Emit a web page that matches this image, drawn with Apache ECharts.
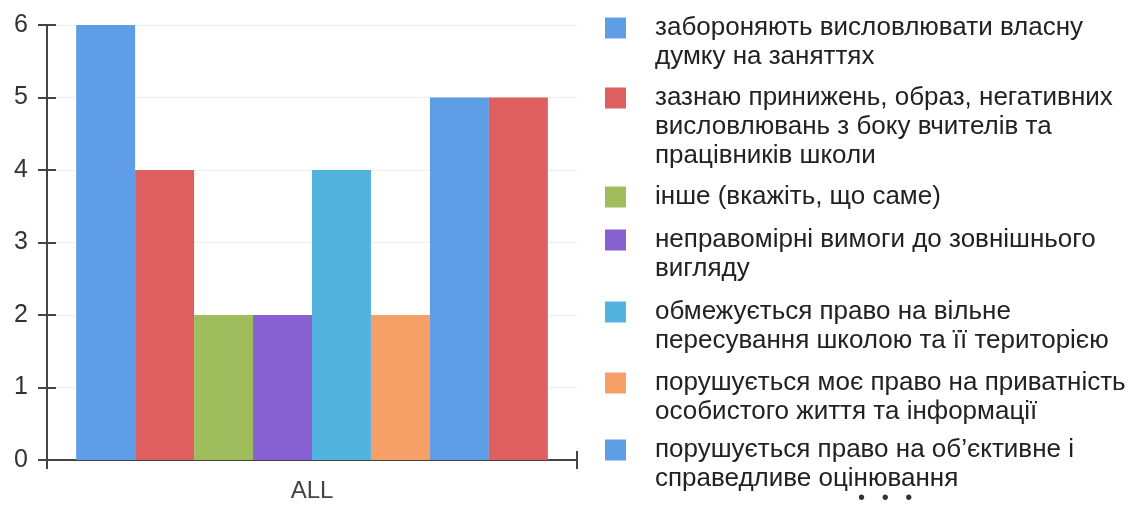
<!DOCTYPE html>
<html><head><meta charset="utf-8">
<script src="https://cdn.jsdelivr.net/npm/echarts@6/dist/echarts.min.js"></script>
<style>html,body{margin:0;padding:0;background:#fff}#c{width:1147px;height:508px}</style>
</head><body><div id="c"></div>
<script>
const categories = ['ALL'];
const seriesNames = [
  'забороняють висловлювати власну\nдумку на заняттях',
  'зазнаю принижень, образ, негативних\nвисловлювань з боку вчителів та\nпрацівників школи',
  'інше (вкажіть, що саме)',
  'неправомірні вимоги до зовнішнього\nвигляду',
  'обмежується право на вільне\nпересування школою та її територією',
  'порушується моє право на приватність\nособистого життя та інформації',
  'порушується право на об\u2019єктивне і\nсправедливе оцінювання',
  '\u2026'
];
const seriesValues = [6, 4, 2, 2, 4, 2, 5, 5];
const yTicks = [0, 1, 2, 3, 4, 5, 6];
const colors = ['#5f9ee6', '#de5f60', '#9fbd5c', '#8760d2', '#52b4de', '#f5a066', '#5f9ee6', '#de5f60'];

const FONT = 'Liberation Sans, Arial, sans-serif';
const LH = 29;
const legendTops = [13.5, 83.5, 182.5, 225.5, 297.5, 368.5, 435.5];

function iconFor(lines) {
  const h = lines * LH;
  return 'path://M0,0h0.01v0.01h-0.01Z M0,4H21V25H0Z M45,' + h + 'h0.01v-0.01h-0.01Z';
}

const legends = legendTops.map((t, i) => {
  const lines = seriesNames[i].split('\n').length;
  return {
    data: [{ name: seriesNames[i], icon: iconFor(lines) }],
    left: 605, top: t, padding: 0, orient: 'vertical',
    itemWidth: 45, itemHeight: lines * LH,
    symbolKeepAspect: false,
    textStyle: { fontFamily: FONT, fontSize: 26, lineHeight: LH, color: '#222' }
  };
});

const chart = echarts.init(document.getElementById('c'), null, { renderer: 'canvas' });
chart.setOption({
  animation: false,
  backgroundColor: '#fff',
  color: colors,
  legend: legends,
  grid: { left: 47, right: 570, top: 25, bottom: 48 },
  xAxis: [{
    type: 'category', data: categories,
    axisLine: { lineStyle: { color: '#444', width: 2 } },
    axisTick: { show: true, length: 9, lineStyle: { color: '#444', width: 2 } },
    axisLabel: { fontFamily: FONT, fontSize: 24, color: '#444', margin: 19 }
  }, {
    type: 'category', data: categories, position: 'bottom',
    axisLine: { show: false },
    axisTick: { show: true, inside: true, length: 9, lineStyle: { color: '#444', width: 2 } },
    axisLabel: { show: false }
  }],
  yAxis: [{
    type: 'value', min: yTicks[0], max: yTicks[yTicks.length - 1], interval: 1,
    axisLine: { show: true, lineStyle: { color: '#444', width: 2 } },
    axisTick: { show: true, length: 9, lineStyle: { color: '#444', width: 2 } },
    axisLabel: { fontFamily: FONT, fontSize: 25, color: '#333', margin: 19 },
    splitLine: { show: true, lineStyle: { color: '#eeeeee', width: 1 } }
  }, {
    type: 'value', min: yTicks[0], max: yTicks[yTicks.length - 1], interval: 1, position: 'left',
    axisLine: { show: false },
    axisTick: { show: true, inside: true, length: 9, lineStyle: { color: '#444', width: 2 } },
    axisLabel: { show: false }, splitLine: { show: false }
  }],
  series: seriesNames.map((n, i) => ({
    name: n, type: 'bar', data: [seriesValues[i]],
    barGap: '0%', barCategoryGap: '11%',
    itemStyle: { color: colors[i] }
  })),
  graphic: [{
    type: 'text', left: 858, top: 488,
    style: { text: '\u2022   \u2022   \u2022', fontFamily: FONT, fontSize: 20, fill: '#333' }
  }]
});
</script></body></html>
